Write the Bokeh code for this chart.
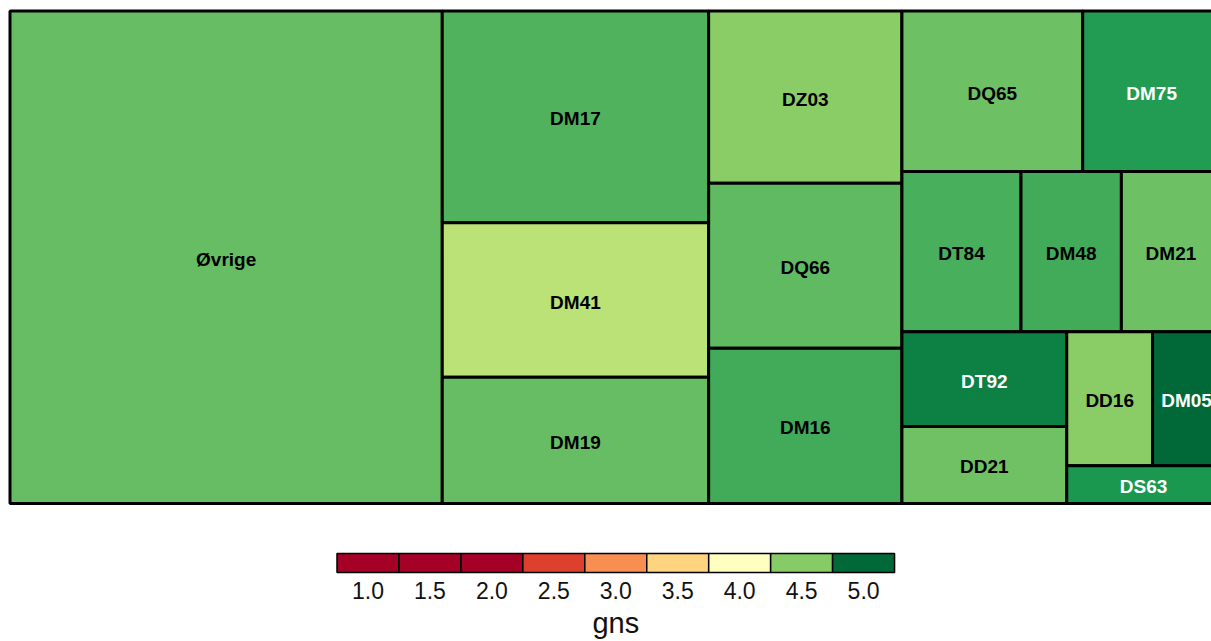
import numpy as np
from bokeh.plotting import figure
from bokeh.models import ColumnDataSource, Range1d, LinearColorMapper
from bokeh.transform import transform
from bokeh.core.properties import value
from bokeh.embed import file_html
from bokeh.resources import INLINE

# ---------------- data ----------------
names = ["Øvrige", "DM17", "DM41", "DM19", "DZ03", "DQ66", "DM16", "DQ65", "DM75",
         "DT84", "DM48", "DM21", "DT92", "DD21", "DD16", "DM05", "DS63"]
sizes = [2129, 564, 412, 336, 333, 319, 300, 290, 221,
         191, 161, 159, 156, 127, 115, 91, 58]
gns = [4.60, 4.66, 4.32, 4.60, 4.49, 4.62, 4.70, 4.58, 4.78,
       4.68, 4.70, 4.58, 4.90, 4.57, 4.49, 5.00, 4.80]

legend_values = [1.0, 1.5, 2.0, 2.5, 3.0, 3.5, 4.0, 4.5, 5.0]
legend_labels = ["1.0", "1.5", "2.0", "2.5", "3.0", "3.5", "4.0", "4.5", "5.0"]
legend_title = "gns"

# ---------------- colour scale (RdYlGn, mid point at 4) ----------------
anchors = ["#a50026", "#d73027", "#f46d43", "#fdae61", "#fee08b", "#ffffbf",
           "#d9ef8b", "#a6d96a", "#66bd63", "#1a9850", "#006837"]
A = np.array([[int(h[i:i + 2], 16) for i in (1, 3, 5)] for h in anchors], float)


def gns_to_t(g):
    if g <= 4.0:
        return max(0.0, (g - 2.0) / 2.0 * 0.5)
    return min(1.0, 0.5 + (g - 4.0) * 0.5)


def t_to_rgb(t):
    pos = t * 10
    i = min(int(np.floor(pos)), 9)
    f = pos - i
    return A[i] * (1 - f) + A[i + 1] * f


def rgb_hex(c):
    return "#%02x%02x%02x" % tuple(int(round(v)) for v in c)


LO, HI, N = 2.0, 5.0, 601
palette = [rgb_hex(t_to_rgb(gns_to_t(LO + (HI - LO) * (k + 0.5) / N))) for k in range(N)]
mapper = LinearColorMapper(palette=palette, low=LO, high=HI,
                           low_color=palette[0], high_color=palette[-1])

# ---------------- pivot-by-size treemap layout ----------------
X0, Y0, W, H = 9.5, 10.5, 1210.5, 492.5


def pivot_layout(items, x, y, w, h, out):
    if not items:
        return
    if len(items) == 1:
        out.append((items[0][0], x, y, w, h))
        return
    total = sum(s for _, s in items)
    piv = items[0]
    rest = items[1:]
    best_k, best_r = 0, None
    for k in range(len(rest) + 1):
        s = piv[1] + sum(v for _, v in rest[:k])
        if w >= h:
            a = w * s / total
            b = h * piv[1] / s
        else:
            a = h * s / total
            b = w * piv[1] / s
        r = max(a / b, b / a)
        if best_r is None or r < best_r - 1e-12:
            best_r, best_k = r, k
    L2 = rest[:best_k]
    L3 = rest[best_k:]
    s = piv[1] + sum(v for _, v in L2)
    if w >= h:
        cw = w * s / total
        ph = h * piv[1] / s
        out.append((piv[0], x, y, cw, ph))
        pivot_layout(L2, x, y + ph, cw, h - ph, out)
        pivot_layout(L3, x + cw, y, w - cw, h, out)
    else:
        rh = h * s / total
        pw = w * piv[1] / s
        out.append((piv[0], x, y, pw, rh))
        pivot_layout(L2, x + pw, y, w - pw, rh, out)
        pivot_layout(L3, x, y + rh, w, h - rh, out)


order = sorted(range(len(names)), key=lambda i: -sizes[i])
items = [(i, sizes[i]) for i in order]
rects = []
pivot_layout(items, X0, Y0, W, H, rects)

idx = [r[0] for r in rects]
x0 = [r[1] for r in rects]
y0 = [r[2] for r in rects]
x1 = [r[1] + r[3] for r in rects]
y1 = [r[2] + r[4] for r in rects]
tile_g = [gns[i] for i in idx]
tile_name = [names[i] for i in idx]
tcol = []
for g in tile_g:
    c = t_to_rgb(gns_to_t(g))
    lum = 0.299 * c[0] + 0.587 * c[1] + 0.114 * c[2]
    tcol.append("white" if lum < 120 else "black")

src = ColumnDataSource(dict(x0=x0, x1=x1, y0=y0, y1=y1, g=tile_g, name=tile_name,
                            cx=[(a + b) / 2 for a, b in zip(x0, x1)],
                            cy=[(a + b) / 2 for a, b in zip(y0, y1)],
                            tcol=tcol))

# ---------------- figure ----------------
p = figure(width=1211, height=641, output_backend="svg", toolbar_location=None,
           x_range=Range1d(0, 1211), y_range=Range1d(641, 0),
           x_axis_location=None, y_axis_location=None, min_border=0)
p.xgrid.visible = False
p.ygrid.visible = False
p.outline_line_color = None
p.background_fill_color = "white"
p.border_fill_color = "white"

p.quad(left="x0", right="x1", top="y0", bottom="y1", source=src,
       fill_color=transform("g", mapper), line_color="black", line_width=3)
p.text(x="cx", y="cy", text="name", source=src, text_align="center",
       text_baseline="middle", text_font=value("Liberation Sans"),
       text_font_style="bold", text_font_size="19px", text_color="tcol", y_offset=2)

# ---------------- legend ----------------
LX0, BW, LY0, LY1 = 336.5, 61.95, 553.0, 572.0
n = len(legend_values)
lsrc = ColumnDataSource(dict(
    l=[LX0 + i * BW for i in range(n)],
    r=[LX0 + (i + 1) * BW for i in range(n)],
    c=[LX0 + (i + 0.5) * BW for i in range(n)],
    v=legend_values, lab=legend_labels))
p.quad(left="l", right="r", top=LY0, bottom=LY1, source=lsrc,
       fill_color=transform("v", mapper), line_color="black", line_width=1.5)
p.text(x="c", y=589.5, text="lab", source=lsrc, text_align="center",
       text_baseline="middle", text_font=value("Liberation Sans"),
       text_font_size="23px", text_color="#111111")
p.text(x=[LX0 + n * BW / 2], y=[622.5], text=[legend_title], text_align="center",
       text_baseline="middle", text_font=value("Liberation Sans"),
       text_font_size="29px", text_color="#111111")

open("out.html", "w").write(file_html(p, INLINE))
